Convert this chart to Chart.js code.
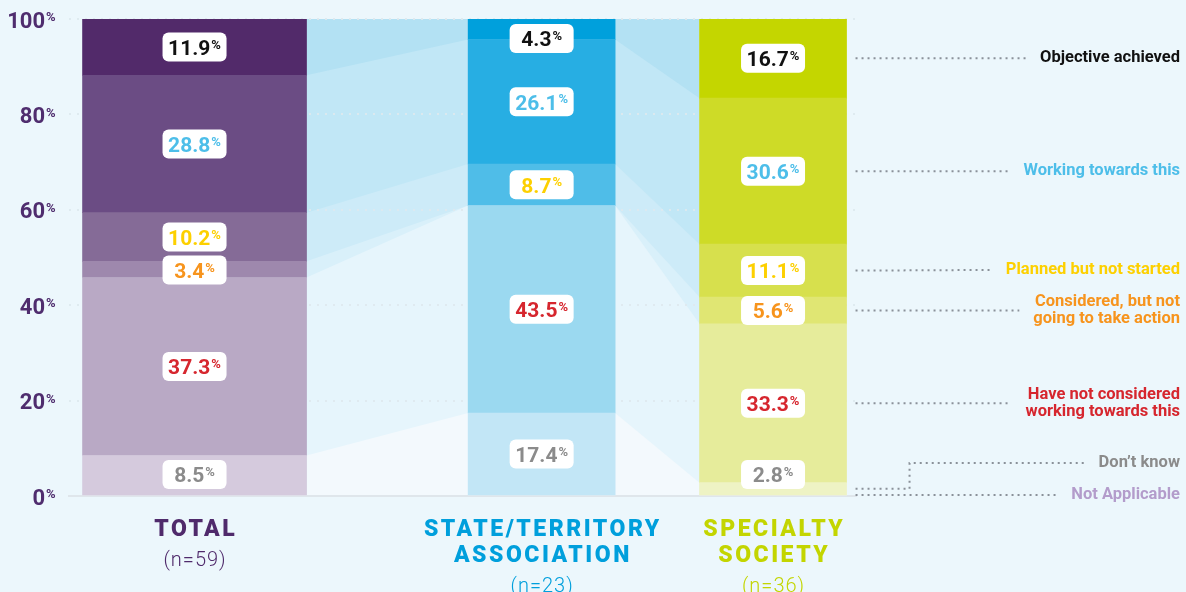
<!DOCTYPE html>
<html>
<head>
<meta charset="utf-8">
<script src="https://cdn.jsdelivr.net/npm/chart.js@4"></script>
<style>
  html, body { margin: 0; padding: 0; background: #ecf7fc; }
</style>
</head>
<body>
<canvas id="chart" width="1186" height="592"></canvas>
<script>
// bar groups (multi-line labels) and their sample sizes
const groups = [['TOTAL'], ['STATE/TERRITORY', 'ASSOCIATION'], ['SPECIALTY', 'SOCIETY']];
const sampleSizes = ['(n=59)', '(n=23)', '(n=36)'];

// answers, listed from the top of each bar down to the bottom
const responses = [
  ['Objective achieved'],
  ['Working towards this'],
  ['Planned but not started'],
  ['Considered, but not', 'going to take action'],
  ['Have not considered', 'working towards this'],
  ['Don’t know'],
  ['Not Applicable']
];

// percentages, same order as responses
const totalValues = [11.9, 28.8, 10.2, 3.4, 37.3, 8.5, 0];
const stateValues = [4.3, 26.1, 8.7, 0, 43.5, 17.4, 0];
const specialtyValues = [16.7, 30.6, 11.1, 5.6, 33.3, 2.8, 0];

const yTicks = [0, 20, 40, 60, 80, 100];

// layout + styling
const seriesValues = [totalValues, stateValues, specialtyValues];
const groupSlot = [0, 3, 5]; // slot of each bar on the x axis, gaps hold the ribbons
const barWidths = [224, 147, 147];
const groupColors = ['#4f2a6b', '#009fdc', '#c3d500'];
const barColors = [
  ['#522a6a', '#6b4c84', '#856b97', '#9e88ad', '#b9a9c5', '#d5cadd', '#e6e0ea'],
  ['#00a0dc', '#27aee3', '#4fbde8', '#76cbec', '#9bd9f0', '#c2e6f6', '#e0f2fa'],
  ['#c4d600', '#cedb27', '#d7e04d', '#e0e673', '#e6ec9b', '#eef3c4', '#f5f8dd']
];
const ribbonColors = ['#b3e1f3', '#c1e7f6', '#cdebf8', '#d9f0fa', '#e6f5fc', '#f3f9fd', '#f3f9fd'];
const answerColors = ['#111111', '#4dbee9', '#fdd000', '#f7941d', '#d6262e', '#8b8b8b', '#b39ccb'];
const axisColor = '#4f2d6e';
const FONT = 'Roboto';

// one dataset per bar segment, bottom segment first so the stack builds upwards
const datasets = [];
seriesValues.forEach((vals, g) => {
  for (let l = responses.length - 1; l >= 0; l--) {
    datasets.push({
      label: responses[l].join(' '),
      data: [{ x: groupSlot[g], y: vals[l] }],
      backgroundColor: barColors[g][l],
      barThickness: barWidths[g],
      borderWidth: 0,
      stack: 'all'
    });
  }
});

const barEl = (chart, g, l) =>
  chart.getDatasetMeta(g * responses.length + (responses.length - 1 - l)).data[0];

// light blue bands joining matching segments of neighbouring bars
const ribbons = {
  id: 'ribbons',
  beforeDraw(chart) {
    const { ctx, chartArea } = chart;
    ctx.save();
    ctx.beginPath();
    ctx.rect(chartArea.left, chartArea.top, chartArea.right - chartArea.left, chartArea.bottom - chartArea.top);
    ctx.clip();
    for (let g = 0; g < groups.length - 1; g++) {
      responses.forEach((r, l) => {
        const a = barEl(chart, g, l), b = barEl(chart, g + 1, l);
        const x0 = a.x + a.width / 2, x1 = b.x - b.width / 2;
        ctx.fillStyle = ribbonColors[l];
        ctx.beginPath();
        ctx.moveTo(x0, a.y);
        ctx.lineTo(x1, b.y);
        ctx.lineTo(x1, chartArea.bottom);
        ctx.lineTo(x0, chartArea.bottom);
        ctx.closePath();
        ctx.fill();
      });
    }
    ctx.restore();
  }
};

// number + superscript percent sign
function drawPercent(ctx, text, x, cy, color, size, align) {
  const small = Math.round(size * 0.6);
  ctx.fillStyle = color;
  ctx.textBaseline = 'alphabetic';
  ctx.textAlign = 'left';
  ctx.font = `700 ${size}px ${FONT}`;
  const wn = ctx.measureText(text).width;
  ctx.font = `700 ${small}px ${FONT}`;
  const wp = ctx.measureText('%').width;
  const sx = align === 'center' ? x - (wn + wp + 1) / 2 : x - wn;
  ctx.font = `700 ${size}px ${FONT}`;
  ctx.fillText(text, sx, cy + size * 0.37);
  ctx.font = `700 ${small}px ${FONT}`;
  ctx.fillText('%', sx + wn + 1, cy + size * 0.08);
}

// white value boxes on each segment
const valueBoxes = {
  id: 'valueBoxes',
  afterDatasetsDraw(chart) {
    const { ctx, chartArea } = chart;
    const w = 64, h = 29;
    seriesValues.forEach((vals, g) => {
      const boxes = [];
      responses.forEach((r, l) => {
        if (!vals[l]) return;
        const el = barEl(chart, g, l);
        boxes.push({ l, v: vals[l], x: el.x, cy: (el.y + el.base) / 2 });
      });
      boxes.forEach((b, i) => {
        b.cy = Math.max(b.cy, chartArea.top + 5 + h / 2);
        b.cy = Math.min(b.cy, chartArea.bottom - 7 - h / 2);
        if (i > 0) b.cy = Math.max(b.cy, boxes[i - 1].cy + h + 4);
      });
      boxes.forEach(b => {
        ctx.save();
        ctx.fillStyle = '#ffffff';
        ctx.beginPath();
        ctx.roundRect(b.x - w / 2, b.cy - h / 2, w, h, 6);
        ctx.fill();
        drawPercent(ctx, b.v.toFixed(1), b.x, b.cy, answerColors[b.l], 21, 'center');
        ctx.restore();
      });
    });
  }
};

// y tick labels, group labels under the bars and the leader-line legend
const annotations = {
  id: 'annotations',
  afterDraw(chart) {
    const { ctx, chartArea } = chart;
    ctx.save();

    const yScale = chart.scales.y;
    yTicks.forEach(v => drawPercent(ctx, String(v), 45, yScale.getPixelForValue(v) + 0.5, axisColor, 22, 'right'));

    groups.forEach((lines, g) => {
      const cx = barEl(chart, g, 0).x;
      ctx.fillStyle = groupColors[g];
      ctx.textAlign = 'center';
      ctx.textBaseline = 'middle';
      ctx.font = `900 23px ${FONT}`;
      ctx.letterSpacing = '2.5px';
      let y = 530;
      lines.forEach((t, i) => {
        y = 530 + i * 26;
        ctx.fillText(t, cx + 1.25, y);
      });
      ctx.font = `300 20px ${FONT}`;
      ctx.letterSpacing = '1px';
      ctx.fillText(sampleSizes[g], cx + 0.5, y + 31);
    });
    ctx.letterSpacing = '0px';

    // legend on the right, tied to the specialty bar by dotted leaders
    const last = groups.length - 1;
    const wants = responses.map((r, l) => {
      const el = barEl(chart, last, l);
      return Math.min((el.y + el.base) / 2, chartArea.bottom - 1);
    });
    const ys = wants.slice();
    for (let i = ys.length - 2; i >= 0; i--) {
      const gap = (responses[i].length + responses[i + 1].length) * 8.5 + 15;
      ys[i] = Math.min(ys[i], ys[i + 1] - gap);
    }
    const right = 1180;
    ctx.font = `700 16.5px ${FONT}`;
    ctx.textAlign = 'right';
    ctx.textBaseline = 'middle';
    responses.forEach((lines, l) => {
      const el = barEl(chart, last, l);
      const sx = el.x + el.width / 2 + 9;
      const tw = Math.max(...lines.map(t => ctx.measureText(t).width));
      const ex = right - tw - 14;
      ctx.strokeStyle = '#8a9199';
      ctx.lineWidth = 2;
      ctx.setLineDash([2, 4]);
      ctx.beginPath();
      ctx.moveTo(sx, wants[l]);
      if (Math.abs(ys[l] - wants[l]) > 2) {
        ctx.lineTo(sx + 54, wants[l]);
        ctx.lineTo(sx + 54, ys[l]);
      }
      ctx.lineTo(ex, ys[l]);
      ctx.stroke();
      ctx.setLineDash([]);
      ctx.fillStyle = answerColors[l];
      lines.forEach((t, j) => ctx.fillText(t, right, ys[l] + (j - (lines.length - 1) / 2) * 17));
    });
    ctx.restore();
  }
};

new Chart(document.getElementById('chart'), {
  type: 'bar',
  data: { datasets },
  options: {
    responsive: false,
    animation: false,
    layout: { padding: { top: 19, bottom: 96, right: 330, left: 0 } },
    plugins: { legend: { display: false }, tooltip: { enabled: false } },
    scales: {
      x: {
        type: 'linear',
        stacked: true,
        offset: false,
        min: -1.085,
        max: 5.717,
        ticks: { display: false },
        grid: { display: false },
        border: { display: true, color: '#dfe6eb', width: 2 },
        afterFit: s => { s.height = 0; }
      },
      y: {
        stacked: true,
        min: 0,
        max: 100,
        ticks: { display: false, stepSize: 20 },
        grid: { color: 'rgba(222,233,238,0.9)', lineWidth: 2, drawTicks: false, tickLength: 0 },
        border: { display: false, dash: [2, 6] },
        afterFit: s => { s.width = 69; }
      }
    }
  },
  plugins: [ribbons, valueBoxes, annotations]
});
</script>
</body>
</html>
